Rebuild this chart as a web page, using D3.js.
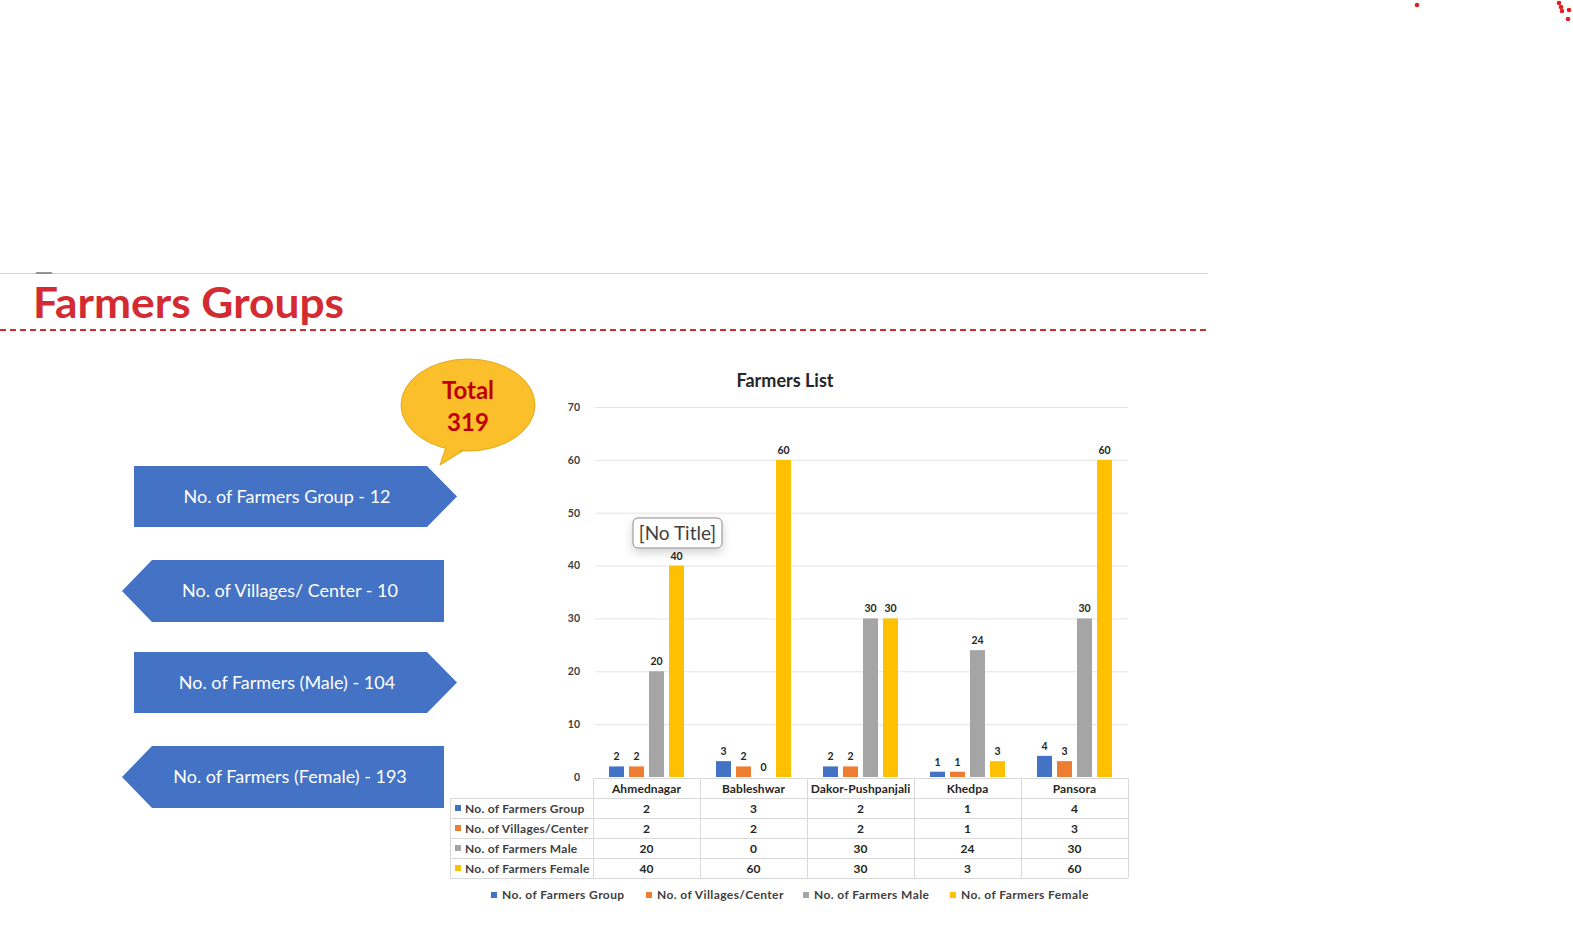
<!DOCTYPE html>
<html>
<head>
<meta charset="utf-8">
<script src="https://cdn.jsdelivr.net/npm/d3@7"></script>
<style>
  html, body { margin: 0; padding: 0; background: #fff; }
  svg { display: block; font-family: Lato, "Open Sans", sans-serif; }
</style>
</head>
<body>
<svg id="c" width="1573" height="932"></svg>
<script>
const categories = ["Ahmednagar", "Bableshwar", "Dakor-Pushpanjali", "Khedpa", "Pansora"];
const seriesNames = ["No. of Farmers Group", "No. of Villages/Center", "No. of Farmers Male", "No. of Farmers Female"];
const farmersGroup = [2, 3, 2, 1, 4];
const villagesCenter = [2, 2, 2, 1, 3];
const farmersMale = [20, 0, 30, 24, 30];
const farmersFemale = [40, 60, 30, 3, 60];
const yTicks = [0, 10, 20, 30, 40, 50, 60, 70];
const summaryLabels = ["No. of Farmers Group - 12", "No. of Villages/ Center - 10", "No. of Farmers (Male) - 104", "No. of Farmers (Female) - 193"];
const totalLabel = ["Total", "319"];
const seriesColors = ["#4472c4", "#ed7d31", "#a5a5a5", "#ffc000"];

const seriesValues = [farmersGroup, villagesCenter, farmersMale, farmersFemale];
const svg = d3.select("#c");

// ---------- header ----------
svg.append("line").attr("x1", 0).attr("x2", 1208).attr("y1", 273.5).attr("y2", 273.5)
  .attr("stroke", "#d0d0d0").attr("stroke-width", 1);
svg.append("line").attr("x1", 36).attr("x2", 52).attr("y1", 273).attr("y2", 273)
  .attr("stroke", "#777").attr("stroke-width", 1.5);
svg.append("text").attr("x", 33).attr("y", 318).text("Farmers Groups")
  .attr("font-size", 42).attr("font-weight", 700).attr("fill", "#d42a32")
  .attr("textLength", 311).attr("lengthAdjust", "spacingAndGlyphs");
svg.append("line").attr("x1", 0).attr("x2", 1206).attr("y1", 330).attr("y2", 330)
  .attr("stroke", "#d42a32").attr("stroke-width", 2).attr("stroke-dasharray", "6,4");

// decorative dots top-right
const dots = [[1417, 5], [1559, 3], [1561, 7], [1562, 11], [1569, 10], [1568, 19]];
svg.selectAll(".dot").data(dots).join("circle").attr("class", "dot")
  .attr("cx", d => d[0]).attr("cy", d => d[1]).attr("r", 2.3).attr("fill", "#e02020");

// ---------- callout bubble ----------
const bub = svg.append("g");
const tail = [[447, 444], [440, 465], [466, 449]];
bub.append("path").attr("d", d3.line()(tail) + "Z").attr("fill", "#fbbf2c").attr("stroke", "#e3a91a").attr("stroke-width", 1);
bub.append("ellipse").attr("cx", 468).attr("cy", 405).attr("rx", 67).attr("ry", 46)
  .attr("fill", "#fbbf2c").attr("stroke", "#e3a91a").attr("stroke-width", 1);
bub.append("path").attr("d", d3.line()([[448, 443], [442, 460], [465, 447]]) + "Z").attr("fill", "#fbbf2c");
bub.selectAll("text").data(totalLabel).join("text")
  .attr("x", 468).attr("y", (d, i) => 399 + i * 32).attr("text-anchor", "middle")
  .attr("font-size", 24).attr("font-weight", 700).attr("fill", "#c00000").text(d => d);

// ---------- arrows ----------
const arrows = [
  { dir: "r", y0: 466, y1: 527 },
  { dir: "l", y0: 560, y1: 622 },
  { dir: "r", y0: 652, y1: 713 },
  { dir: "l", y0: 746, y1: 808 }
];
arrows.forEach((a, i) => {
  const ym = (a.y0 + a.y1) / 2;
  let pts, cx;
  if (a.dir === "r") {
    pts = [[134, a.y0], [427, a.y0], [457, ym], [427, a.y1], [134, a.y1]];
    cx = 287;
  } else {
    pts = [[152, a.y0], [444, a.y0], [444, a.y1], [152, a.y1], [122, ym]];
    cx = 290;
  }
  svg.append("path").attr("d", d3.line()(pts) + "Z").attr("fill", "#4472c4");
  svg.append("text").attr("x", cx).attr("y", ym + 6).attr("text-anchor", "middle")
    .attr("font-size", 18).attr("fill", "#fff").text(summaryLabels[i]);
});

// ---------- chart ----------
const cLeft = 593, cRight = 1128, cTop = 407, cBottom = 777;
const y = d3.scaleLinear().domain([0, 70]).range([cBottom, cTop]);
const x0 = d3.scaleBand().domain(categories).range([cLeft, cRight]).padding(0);
const x1 = d3.scaleBand().domain(seriesNames).range([16, 91]).paddingInner(0.25).paddingOuter(0);

svg.append("text").attr("x", 785).attr("y", 387).attr("text-anchor", "middle")
  .attr("font-size", 18).attr("font-weight", 700).attr("fill", "#262626").text("Farmers List");

// grid
const grid = svg.append("g").attr("transform", `translate(${cLeft},0)`)
  .call(d3.axisLeft(y).tickValues(yTicks.slice(1)).tickSize(-(cRight - cLeft)).tickFormat(""));
grid.select(".domain").remove();
grid.selectAll("line").attr("stroke", "#e4e4e4").attr("x1", 2);

// y tick labels
const yAx = svg.append("g").attr("transform", `translate(${cLeft - 13},0)`)
  .call(d3.axisLeft(y).tickValues(yTicks).tickSize(0).tickPadding(0));
yAx.select(".domain").remove();
yAx.selectAll("text").attr("font-size", 10.5).attr("font-weight", 700).attr("fill", "#404040")
  .attr("font-family", "Lato, sans-serif");

// bars
const rows = [];
categories.forEach((c, ci) => seriesNames.forEach((s, si) => rows.push({ c, s, si, v: seriesValues[si][ci] })));
const bars = svg.append("g");
bars.selectAll("rect").data(rows).join("rect")
  .attr("x", d => x0(d.c) + x1(d.s)).attr("width", x1.bandwidth())
  .attr("y", d => y(d.v)).attr("height", d => cBottom - y(d.v))
  .attr("fill", d => seriesColors[d.si]);
bars.selectAll("text").data(rows).join("text")
  .attr("x", d => x0(d.c) + x1(d.s) + x1.bandwidth() / 2)
  .attr("y", d => y(d.v) - 6).attr("text-anchor", "middle")
  .attr("font-size", 10.5).attr("font-weight", 700).attr("fill", "#262626").text(d => d.v);

// [No Title] tooltip box
const tip = svg.append("g");
const defs = svg.append("defs");
const f = defs.append("filter").attr("id", "sh").attr("x", "-30%").attr("y", "-30%").attr("width", "160%").attr("height", "180%");
f.append("feDropShadow").attr("dx", 0).attr("dy", 4).attr("stdDeviation", 5).attr("flood-color", "#000").attr("flood-opacity", 0.18);
tip.append("rect").attr("x", 633).attr("y", 518).attr("width", 89).attr("height", 30).attr("rx", 5)
  .attr("fill", "#fff").attr("stroke", "#8a8a8a").attr("stroke-width", 1).attr("filter", "url(#sh)");
tip.append("text").attr("x", 677.5).attr("y", 540).attr("text-anchor", "middle")
  .attr("font-size", 19).attr("fill", "#404040").text("[No Title]");

// ---------- data table ----------
const tblTop = 778, rowH = 20, labelLeft = 450;
const tbl = svg.append("g");
const lineCol = "#d9d9d9";
tbl.append("line").attr("x1", cLeft).attr("x2", cRight).attr("y1", tblTop + 0.5).attr("y2", tblTop + 0.5).attr("stroke", lineCol);
for (let r = 1; r <= 5; r++) {
  tbl.append("line").attr("x1", labelLeft).attr("x2", cRight).attr("y1", tblTop + r * rowH + 0.5).attr("y2", tblTop + r * rowH + 0.5).attr("stroke", lineCol);
}
tbl.append("line").attr("x1", labelLeft + 0.5).attr("x2", labelLeft + 0.5).attr("y1", tblTop + rowH).attr("y2", tblTop + 5 * rowH).attr("stroke", lineCol);
categories.forEach(c => {
  tbl.append("line").attr("x1", x0(c) + 0.5).attr("x2", x0(c) + 0.5).attr("y1", tblTop).attr("y2", tblTop + 5 * rowH).attr("stroke", lineCol);
});
tbl.append("line").attr("x1", cRight + 0.5).attr("x2", cRight + 0.5).attr("y1", tblTop).attr("y2", tblTop + 5 * rowH).attr("stroke", lineCol);
tbl.selectAll(".hdr").data(categories).join("text").attr("class", "hdr")
  .attr("x", d => x0(d) + x0.bandwidth() / 2).attr("y", tblTop + 15).attr("text-anchor", "middle")
  .attr("font-size", 12).attr("letter-spacing", 0.1).attr("font-weight", 700).attr("fill", "#262626").text(d => d);
seriesNames.forEach((s, si) => {
  const ry = tblTop + (si + 1) * rowH;
  tbl.append("rect").attr("x", 455).attr("y", ry + 7).attr("width", 6).attr("height", 6).attr("fill", seriesColors[si]);
  tbl.append("text").attr("x", 465).attr("y", ry + 15).attr("font-size", 12).attr("letter-spacing", 0.25)
    .attr("font-weight", 700).attr("fill", "#404040").text(s);
  tbl.selectAll(".v" + si).data(categories).join("text").attr("class", "v" + si)
    .attr("x", d => x0(d) + x0.bandwidth() / 2).attr("y", ry + 15).attr("text-anchor", "middle")
    .attr("font-size", 12).attr("font-weight", 700).attr("fill", "#262626")
    .text((d, ci) => seriesValues[si][ci]);
});

// ---------- legend ----------
const legX = [491, 646, 803, 950];
const leg = svg.append("g");
seriesNames.forEach((s, si) => {
  leg.append("rect").attr("x", legX[si]).attr("y", 892).attr("width", 6).attr("height", 6).attr("fill", seriesColors[si]);
  leg.append("text").attr("x", legX[si] + 11).attr("y", 899).attr("font-size", 12).attr("letter-spacing", 0.4)
    .attr("font-weight", 700).attr("fill", "#404040").text(s);
});
</script>
</body>
</html>
